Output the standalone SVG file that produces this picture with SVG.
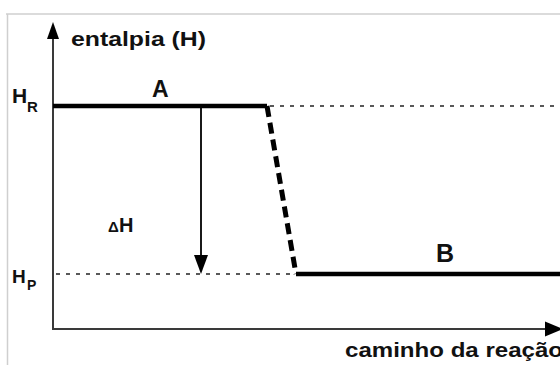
<svg xmlns="http://www.w3.org/2000/svg" width="560" height="365" viewBox="0 0 560 365">
  <style>
    .lbl { font-family: "Liberation Sans", Arial, sans-serif; font-weight: bold; fill: #111; }
    .axis { stroke: #3a3a3a; stroke-width: 2; fill: none; }
    .level { stroke: #000; stroke-width: 4.5; fill: none; }
    .dot { stroke: #222; stroke-width: 1.6; stroke-dasharray: 4 6; fill: none; }
    .frame { stroke: #cfcfcf; stroke-width: 1.5; fill: none; }
  </style>
  <rect width="560" height="365" fill="#fff"/>
  <!-- frame -->
  <path class="frame" d="M6,14 H560 M7.5,14 V365"/>

  <!-- axes -->
  <g id="axes">
    <path class="axis" d="M53,34 V329 H548"/>
    <path d="M53,22 L59,39 L47,39 Z" fill="#000"/>
    <path d="M563,329 L545,321.5 L545,336.5 Z" fill="#000"/>
  </g>

  <!-- levels -->
  <g id="reactants">
    <path class="level" d="M53,106 H267"/>
    <text class="lbl" x="152" y="97" font-size="23">A</text>
  </g>
  <g id="products">
    <path class="level" d="M296,274 H560"/>
    <text class="lbl" x="436" y="262" font-size="25">B</text>
  </g>

  <g id="connectors">
    <path class="dot" d="M270,106 H560"/>
    <path class="dot" d="M56,274 H294"/>
    <path d="M267,106 L296,274" stroke="#000" stroke-width="5" stroke-dasharray="11 6" fill="none"/>
    <path d="M201,107 V257" stroke="#000" stroke-width="1.8" fill="none"/>
    <path d="M201,274 L194,255 L208,255 Z" fill="#000"/>
  </g>

  <!-- labels -->
  <g id="labels">
    <text class="lbl" x="71" y="46" font-size="21" textLength="135" lengthAdjust="spacingAndGlyphs">entalpia (H)</text>
    <text class="lbl" x="12" y="103" font-size="21">H</text>
    <text class="lbl" x="27" y="112" font-size="15">R</text>
    <text class="lbl" x="12" y="283" font-size="19">H</text>
    <text class="lbl" x="27" y="290" font-size="14">P</text>
    <text class="lbl" x="108" y="232" font-size="15" font-weight="normal">Δ</text>
    <text class="lbl" x="119" y="232" font-size="20">H</text>
    <text class="lbl" x="345" y="357" font-size="21" textLength="218" lengthAdjust="spacingAndGlyphs">caminho da reação</text>
  </g>
</svg>
